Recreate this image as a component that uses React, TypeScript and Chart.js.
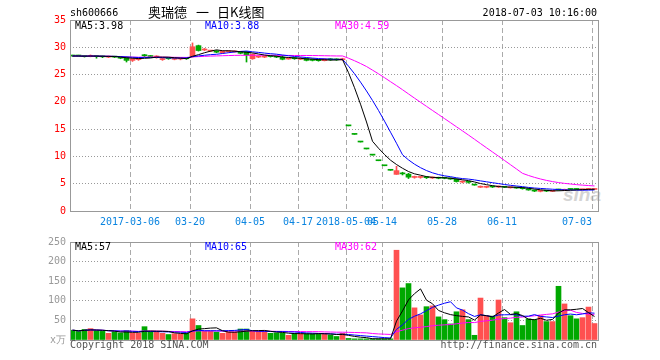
import React, { useEffect, useRef } from 'react';
import { Chart, registerables } from 'chart.js';

Chart.register(...registerables);

// ---------- data ----------
const dates = [
  '2017-02-20', '2017-02-21', '2017-02-22', '2017-02-23', '2017-02-24', '2017-02-27', '2017-02-28', '2017-03-01', '2017-03-02', '2017-03-03',
  '2017-03-06', '2017-03-07', '2017-03-08', '2017-03-09', '2017-03-10', '2017-03-13', '2017-03-14', '2017-03-15', '2017-03-16', '2017-03-17',
  '2017-03-20', '2017-03-21', '2017-03-22', '2017-03-23', '2017-03-24', '2017-03-27', '2017-03-28', '2017-03-29', '2017-03-30', '2017-03-31',
  '2017-04-05', '2017-04-06', '2017-04-07', '2017-04-10', '2017-04-11', '2017-04-12', '2017-04-13', '2017-04-14', '2017-04-17', '2017-04-18',
  '2017-04-19', '2017-04-20', '2017-04-21', '2017-04-24', '2017-04-25', '2017-04-26',
  '2018-05-04', '2018-05-07', '2018-05-08', '2018-05-09', '2018-05-10', '2018-05-11', '2018-05-14', '2018-05-15', '2018-05-16', '2018-05-17',
  '2018-05-18', '2018-05-21', '2018-05-22', '2018-05-23', '2018-05-24', '2018-05-25', '2018-05-28', '2018-05-29', '2018-05-30', '2018-05-31',
  '2018-06-01', '2018-06-04', '2018-06-05', '2018-06-06', '2018-06-07', '2018-06-08', '2018-06-11', '2018-06-12', '2018-06-13', '2018-06-14',
  '2018-06-15', '2018-06-19', '2018-06-20', '2018-06-21', '2018-06-22', '2018-06-25', '2018-06-26', '2018-06-27', '2018-06-28', '2018-06-29',
  '2018-07-02', '2018-07-03',
];

const opens = [
  28.5, 28.5, 28.4, 28.3, 28.4, 28.35, 28.2, 28.3, 28.25, 28.2,
  27.6, 27.75, 28.6, 28.4, 28.1, 27.75, 28.0, 27.8, 27.85, 28.0,
  28.3, 30.3, 29.5, 29.3, 29.35, 29.0, 29.2, 29.15, 29.2, 29.2,
  27.9, 28.2, 28.2, 28.4, 28.35, 28.2, 27.85, 28.05, 27.8, 27.95,
  27.8, 27.75, 27.55, 27.9, 27.8, 27.7,
  15.6, 14.04, 12.64, 11.37, 10.24, 9.21, 8.29, 7.46, 6.71, 6.95,
  6.75, 6.15, 6.15, 6.15, 6.05, 6.1, 6.05, 5.95, 5.85, 5.3,
  5.35, 4.85, 4.35, 4.35, 4.45, 4.4, 4.45, 4.25, 4.3, 4.2,
  4.05, 3.8, 3.6, 3.7, 3.6, 3.95, 3.8, 4.0, 4.0, 3.9,
  3.95, 3.95,
];
const highs = [
  28.55, 28.55, 28.45, 28.6, 28.45, 28.4, 28.4, 28.35, 28.3, 28.25,
  27.95, 28.0, 28.7, 28.5, 28.45, 28.0, 28.1, 28.0, 28.0, 28.1,
  30.8, 30.4, 29.8, 29.45, 29.4, 29.35, 29.4, 29.35, 29.25, 29.2,
  28.8, 28.45, 28.4, 28.45, 28.4, 28.5, 28.1, 28.1, 28.1, 28.0,
  27.85, 27.8, 27.9, 27.95, 27.9, 28.0,
  15.6, 14.04, 12.64, 11.37, 10.24, 9.21, 8.29, 7.46, 8.2, 7.1,
  6.9, 6.4, 6.35, 6.3, 6.25, 6.2, 6.15, 6.05, 5.9, 5.5,
  5.45, 4.9, 4.6, 4.55, 4.55, 4.6, 4.5, 4.4, 4.35, 4.25,
  4.1, 3.85, 3.75, 3.75, 3.75, 4.0, 4.0, 4.05, 4.05, 4.0,
  4.15, 4.05,
];
const lows = [
  28.35, 28.35, 28.2, 28.25, 28.0, 28.1, 28.1, 28.1, 27.9, 27.3,
  27.4, 27.6, 28.3, 28.2, 28.0, 27.6, 27.8, 27.7, 27.7, 27.8,
  28.2, 29.3, 29.4, 29.2, 29.0, 28.95, 29.1, 29.1, 28.8, 27.3,
  27.8, 28.1, 28.1, 28.2, 28.1, 27.7, 27.8, 27.8, 27.75, 27.5,
  27.5, 27.45, 27.5, 27.6, 27.6, 27.65,
  15.6, 14.04, 12.64, 11.37, 10.24, 9.21, 8.29, 7.46, 6.71, 6.6,
  5.95, 6.0, 6.0, 5.95, 5.95, 5.9, 5.9, 5.8, 5.3, 5.15,
  5.1, 4.72, 4.3, 4.25, 4.3, 4.3, 4.3, 4.2, 4.15, 4.0,
  3.8, 3.55, 3.5, 3.55, 3.55, 3.8, 3.75, 3.9, 3.9, 3.85,
  3.9, 3.9,
];
const closes = [
  28.4, 28.4, 28.3, 28.5, 28.3, 28.25, 28.3, 28.2, 28.0, 27.6,
  27.9, 27.95, 28.45, 28.3, 28.4, 27.9, 27.9, 27.9, 27.95, 27.9,
  30.1, 29.4, 29.65, 29.4, 29.1, 29.3, 29.35, 29.3, 28.9, 28.6,
  28.7, 28.35, 28.35, 28.3, 28.2, 27.8, 28.05, 27.9, 28.0, 27.6,
  27.6, 27.55, 27.85, 27.7, 27.7, 27.9,
  15.6, 14.04, 12.64, 11.37, 10.24, 9.21, 8.29, 7.46, 7.4, 6.8,
  6.2, 6.2, 6.2, 6.1, 6.1, 6.0, 6.0, 5.85, 5.4, 5.35,
  5.25, 4.75, 4.4, 4.4, 4.4, 4.45, 4.35, 4.3, 4.2, 4.1,
  3.85, 3.65, 3.65, 3.65, 3.7, 3.85, 3.9, 3.95, 3.95, 3.95,
  4.05, 4.0,
];
// volume, in 万 (x10k) lots
const volumes = [
  25, 22, 27, 29, 24, 22, 17, 21, 18, 24,
  18, 17, 34, 22, 22, 17, 14, 16, 15, 17,
  54, 37, 22, 22, 20, 17, 20, 20, 28, 28,
  22, 22, 22, 17, 18, 18, 12, 17, 16, 16,
  16, 16, 16, 13, 9, 17,
  4, 3, 3, 3, 3, 3, 3, 3, 229, 133,
  144, 82, 64, 85, 87, 59, 52, 41, 72, 77,
  52, 12, 107, 62, 61, 102, 57, 44, 72, 37,
  54, 52, 62, 47, 47, 137, 92, 62, 54, 57,
  84, 42,
];

const tickIndex = [10, 20, 30, 38, 46, 52, 62, 72, 87];
const tickLabels = ['2017-03-06', '03-20', '04-05', '04-17', '2018-05-04', '05-14', '05-28', '06-11', '07-03'];
const priceTicks = [0, 5, 10, 15, 20, 25, 30, 35];
const volumeTicks = [0, 50, 100, 150, 200, 250];
const maPeriods = [5, 10, 30];
const priceLegend = ['MA5:3.98', 'MA10:3.88', 'MA30:4.59'];
const volumeLegend = ['MA5:57', 'MA10:65', 'MA30:62'];
const stockCode = 'sh600666';
const titleParts = ['奥瑞德', '一', '日K线图'];
const timeStamp = '2018-07-03 10:16:00';
const copyright = 'Copyright 2018 SINA.COM';
const siteUrl = 'http://finance.sina.com.cn';

// ---------- styles ----------
const MONO = '"DejaVu Sans Mono", "Liberation Mono", monospace';
const CJK = '"Noto Sans CJK SC", "Noto Sans", sans-serif';
const UP = '#ff5050';
const DOWN = '#00a800';
const MA_COLORS = ['#000000', '#0000ff', '#ff00ff'];
const LEGEND_X = [75, 205, 335];
const SLOT_SHIFT = 2.5 / 6; // centre of a 5px bar inside its 6px slot

function movingAverage(src: number[], n: number): number[] {
  return src.map((_, i) => {
    const w = src.slice(Math.max(0, i - n + 1), i + 1);
    return w.reduce((a, b) => a + b, 0) / w.length;
  });
}

const isUp = closes.map((c, i) => c > opens[i] || (c === opens[i] && c >= (i > 0 ? closes[i - 1] : c)));
const candleColors = isUp.map((u) => (u ? UP : DOWN));

const framePlugin = {
  id: 'frame',
  afterDraw(chart: any) {
    const { ctx, chartArea: a } = chart;
    ctx.save();
    ctx.strokeStyle = '#999999';
    ctx.lineWidth = 1;
    ctx.setLineDash([]);
    ctx.strokeRect(Math.round(a.left) + 0.5, Math.round(a.top) + 0.5, Math.round(a.right - a.left), Math.round(a.bottom - a.top));
    ctx.restore();
  },
};

function xScale(showLabels: boolean, height: number) {
  return {
    type: 'linear',
    min: 0,
    max: dates.length,
    offset: false,
    afterBuildTicks: (s: any) => {
      s.ticks = tickIndex.map((v) => ({ value: v }));
    },
    afterFit: (s: any) => {
      s.height = height;
    },
    grid: { color: '#aaaaaa', lineWidth: 1, drawTicks: false, offset: false },
    border: { display: false, dash: [5, 3] },
    ticks: {
      display: showLabels,
      autoSkip: false,
      maxRotation: 0,
      minRotation: 0,
      padding: 5,
      color: '#0a84e0',
      font: { family: MONO, size: 10 },
      callback: (v: number) => {
        const k = tickIndex.indexOf(v);
        if (k < 0) return '';
        const t = tickLabels[k];
        // last label sits to the left of its grid line, inside the plot
        return k === tickIndex.length - 1 ? t + ' '.repeat(t.length) : t;
      },
    },
  };
}

function yScale(ticks: number[], color: string, label: (v: number) => string) {
  return {
    type: 'linear',
    min: ticks[0],
    max: ticks[ticks.length - 1],
    afterBuildTicks: (s: any) => {
      s.ticks = ticks.map((v) => ({ value: v }));
    },
    afterFit: (s: any) => {
      s.width = 70;
    },
    grid: { color: '#999999', lineWidth: 1, drawTicks: false },
    border: { display: false, dash: [1, 2] },
    ticks: {
      padding: 4,
      color,
      font: { family: MONO, size: 10 },
      callback: (v: number) => label(v),
    },
  };
}

function maDatasets(src: number[]) {
  return maPeriods.map((p, k) => ({
    type: 'line',
    data: movingAverage(src, p).map((v, i) => ({ x: i + SLOT_SHIFT, y: v })),
    borderColor: MA_COLORS[k],
    borderWidth: 1,
    pointRadius: 0,
    tension: 0,
    order: k === 0 ? 0 : 1,
  }));
}

const baseOptions = {
  responsive: false,
  animation: false,
  events: [],
  plugins: { legend: { display: false }, tooltip: { enabled: false } },
};

function Text(props: { x: number; y: number; color?: string; size?: number; font?: string; right?: boolean; children: React.ReactNode; style?: any }) {
  const { x, y, color = '#000', size = 10, font = MONO, right = false, children, style = {} } = props;
  return (
    <div
      style={{
        position: 'absolute',
        left: right ? undefined : x,
        right: right ? 660 - x : undefined,
        top: y - 8,
        lineHeight: '16px',
        fontSize: size,
        fontFamily: font,
        color,
        whiteSpace: 'pre',
        ...style,
      }}
    >
      {children}
    </div>
  );
}

export default function App() {
  const priceRef = useRef<HTMLCanvasElement>(null);
  const volRef = useRef<HTMLCanvasElement>(null);

  useEffect(() => {
    const priceChart = new Chart(priceRef.current as HTMLCanvasElement, {
      type: 'bar',
      data: {
        datasets: [
          ...maDatasets(closes),
          {
            type: 'bar',
            data: opens.map((o, i) => ({ x: i + SLOT_SHIFT, y: [Math.min(o, closes[i]), Math.max(o, closes[i])] })),
            backgroundColor: candleColors,
            barThickness: 5,
            minBarLength: 1,
            grouped: false,
            order: 2,
          },
          {
            type: 'bar',
            data: lows.map((l, i) => ({ x: i + SLOT_SHIFT, y: [l, highs[i]] })),
            backgroundColor: candleColors,
            barThickness: 1,
            grouped: false,
            order: 3,
          },
        ],
      } as any,
      options: {
        ...baseOptions,
        layout: { padding: { top: 20, right: 62, left: 0, bottom: 0 } },
        scales: {
          x: xScale(true, 21),
          y: yScale(priceTicks, '#ff0000', (v) => String(v)),
        },
      } as any,
      plugins: [framePlugin],
    });

    const volChart = new Chart(volRef.current as HTMLCanvasElement, {
      type: 'bar',
      data: {
        datasets: [
          ...maDatasets(volumes),
          {
            type: 'bar',
            data: volumes.map((v, i) => ({ x: i + SLOT_SHIFT, y: v })),
            backgroundColor: candleColors,
            barThickness: 5,
            grouped: false,
            order: 2,
          },
        ],
      } as any,
      options: {
        ...baseOptions,
        layout: { padding: { top: 8, right: 62, left: 0, bottom: 0 } },
        scales: {
          x: xScale(false, 20),
          y: yScale(volumeTicks, '#999999', (v) => (v === 0 ? 'x万' : String(v))),
        },
      } as any,
      plugins: [framePlugin],
    });

    return () => {
      priceChart.destroy();
      volChart.destroy();
    };
  }, []);

  return (
    <div style={{ position: 'absolute', left: 0, top: 0, width: 660, height: 360, background: '#fff', overflow: 'hidden' }}>
      <div
        style={{
          position: 'absolute',
          left: 563,
          top: 183,
          fontFamily: '"Liberation Sans", Arial, sans-serif',
          fontStyle: 'italic',
          fontWeight: 'bold',
          fontSize: 19,
          color: '#d4d4d4',
          lineHeight: '24px',
        }}
      >
        sina
      </div>
      <canvas ref={priceRef} width={660} height={232} style={{ position: 'absolute', left: 0, top: 0 }} />
      <canvas ref={volRef} width={660} height={128} style={{ position: 'absolute', left: 0, top: 232 }} />

      <Text x={70} y={13}>{stockCode}</Text>
      <Text x={148} y={12} size={13} font={CJK}>{titleParts[0]}</Text>
      <Text x={196} y={12} size={13} font={CJK}>{titleParts[1]}</Text>
      <Text x={217} y={12} size={13} font={CJK}>{titleParts[2]}</Text>
      <Text x={597} y={13} right>{timeStamp}</Text>

      {priceLegend.map((t, k) => (
        <Text key={'p' + k} x={LEGEND_X[k]} y={26} color={MA_COLORS[k]}>{t}</Text>
      ))}
      {volumeLegend.map((t, k) => (
        <Text key={'v' + k} x={LEGEND_X[k]} y={247} color={MA_COLORS[k]}>{t}</Text>
      ))}

      <Text x={70} y={345} color="#555">{copyright}</Text>
      <Text x={597} y={345} color="#555" right>{siteUrl}</Text>
    </div>
  );
}
